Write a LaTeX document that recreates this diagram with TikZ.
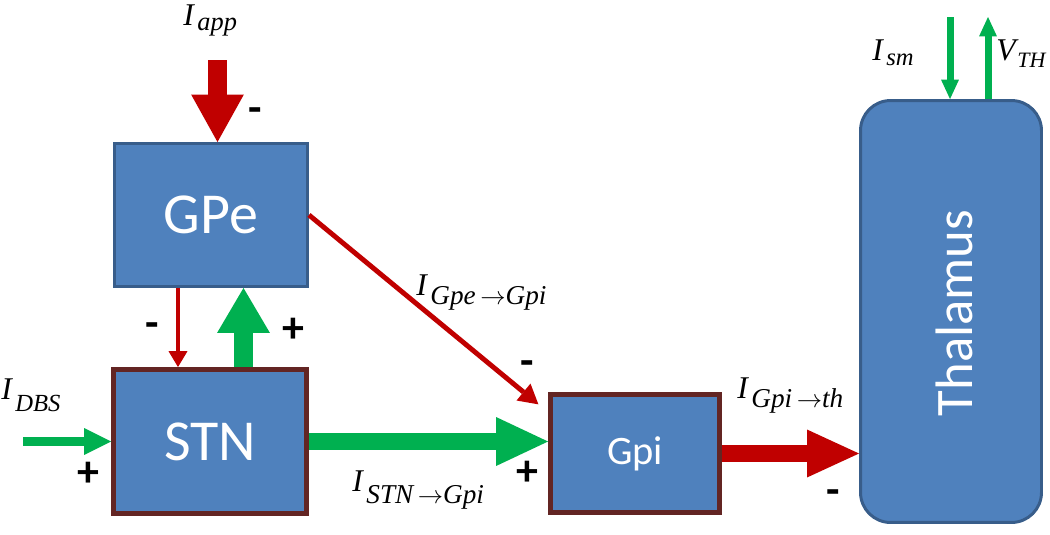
\documentclass[tikz,border=0pt]{standalone}
\usepackage{fontspec}
\setmainfont{Liberation Serif}
\newfontfamily\boxfont{Carlito}
\usetikzlibrary{arrows.meta}
\definecolor{fillblue}{HTML}{4F81BD}
\definecolor{edgeblue}{HTML}{385D8A}
\definecolor{edgebrown}{HTML}{632523}
\definecolor{ared}{HTML}{C00000}
\definecolor{agreen}{HTML}{00B050}
% #1 = drop of the subscript, #2 = main letter, #3 = subscript
\newcommand{\curlab}[3][5pt]{{\fontsize{18}{20}\selectfont\itshape #2}\kern2pt\raisebox{-#1}{\fontsize{14}{16}\selectfont\itshape #3}}
\newcommand{\bigsub}{\fontsize{15.5}{17}\selectfont}
\newcommand{\rarr}{\,$\rightarrow$}
\begin{document}
\begin{tikzpicture}[x=0.02cm,y=-0.02cm,
  blockA/.style={draw=edgeblue, line width=1.7pt, fill=fillblue, text=white, inner sep=0pt,
    font=\boxfont\fontsize{33}{36}\selectfont},
  blockB/.style={blockA, draw=edgebrown, line width=2.8pt},
  sign/.style={inner sep=0pt, font=\boxfont\bfseries\fontsize{25}{27}\selectfont},
  lab/.style={inner sep=0pt, anchor=base west},
  apparrow/.style={draw=ared, line width=10.8pt, -{Triangle[length=27pt,width=30pt,line width=0pt]}},
  redthin/.style={draw=ared, line width=2.3pt, -{Triangle[length=9pt,width=10.8pt,line width=0pt]}},
  redline/.style={draw=ared, line width=2.8pt, -{Triangle[length=11pt,width=12.5pt,line width=0pt]}},
  redbig/.style={draw=ared, line width=9.6pt, -{Triangle[length=29.5pt,width=27.2pt,line width=0pt]}},
  greenup/.style={draw=agreen, line width=10.8pt, -{Triangle[length=25.5pt,width=30pt,line width=0pt]}},
  greendbs/.style={draw=agreen, line width=5.1pt, -{Triangle[length=15.3pt,width=15.3pt,line width=0pt]}},
  greenbig/.style={draw=agreen, line width=9.6pt, -{Triangle[length=29.5pt,width=27.8pt,line width=0pt]}},
  greenthin/.style={draw=agreen, line width=4pt, -{Triangle[length=11pt,width=10.2pt,line width=0pt]}}
]
\useasboundingbox (0,0) rectangle (1050,534);
% blocks
\node[blockA, minimum width=3.86cm, minimum height=2.86cm] (gpe) at (211,215) {GPe};
\node[blockB, minimum width=3.86cm, minimum height=2.88cm] (stn) at (210,441.5) {STN};
\node[blockB, minimum width=3.38cm, minimum height=2.36cm,
      font=\boxfont\fontsize{23}{26}\selectfont] (gpi) at (635,453.5) {Gpi};
\node[blockA, rounded corners=0.6cm, minimum width=3.62cm, minimum height=8.44cm] (thal) at (951,311.5) {};
\node[text=white, rotate=90, inner sep=0pt, font=\boxfont\fontsize{30}{33}\selectfont] (thaltxt) at (954,313) {Thalamus};
% free ends
\coordinate (appin) at (217.5,60);
\coordinate (dbsin) at (23,441.5);
\coordinate (smin) at (950,17);
\coordinate (vthout) at (988,17);
\coordinate (xa) at (178,0);
\coordinate (xb) at (243.5,0);
% connectors
\draw[apparrow] (appin) -- (appin |- gpe.north);
\draw[redthin] (xa |- gpe.south) -- (xa |- stn.north);
\draw[greenup] (xb |- stn.north) -- (xb |- gpe.south);
\draw[greendbs] (dbsin) -- (stn.west);
\draw[greenbig] (stn.east) -- (stn.east -| gpi.west);
\draw[redline] (gpe.east) -- ([xshift=-5.5pt,yshift=-7pt]gpi.north west);
\draw[redbig] (gpi.east) -- (gpi.east -| thal.west);
\draw[greenthin] (smin) -- (smin |- thal.north);
\draw[greenthin] (vthout |- thal.north) -- (vthout);
% labels
\node[lab] (lapp) at (183,25) {\curlab[3pt]{I}{\fontsize{15}{17}\selectfont app}};
\node[lab] (ldbs) at (1,399) {\curlab[7pt]{I}{DBS}};
\node[lab] (lgpe) at (416,295) {\curlab[5.5pt]{I}{\bigsub Gpe\rarr Gpi}};
\node[lab] (lstn) at (352,491) {\curlab[7pt]{I}{\bigsub STN\rarr Gpi}};
\node[lab] (lgpi) at (737,398) {\curlab[5.5pt]{I}{\bigsub Gpi\rarr th}};
\node[lab] (lsm) at (872,60) {\curlab[3pt]{I}{sm}};
\node[lab] (lvth) at (996,60) {{\fontsize{18}{20}\selectfont\itshape V}\kern1pt\raisebox{-4pt}{\fontsize{12.5}{14}\selectfont\itshape TH}};
% signs
\node[sign] (s1) at (255,115) {-};
\node[sign] (s2) at (152,330) {-};
\node[sign] (s3) at (293,330) {+};
\node[sign] (s4) at (88,474) {+};
\node[sign] (s5) at (527,368) {-};
\node[sign] (s6) at (527,473) {+};
\node[sign] (s7) at (833,497) {-};
\end{tikzpicture}
\end{document}
